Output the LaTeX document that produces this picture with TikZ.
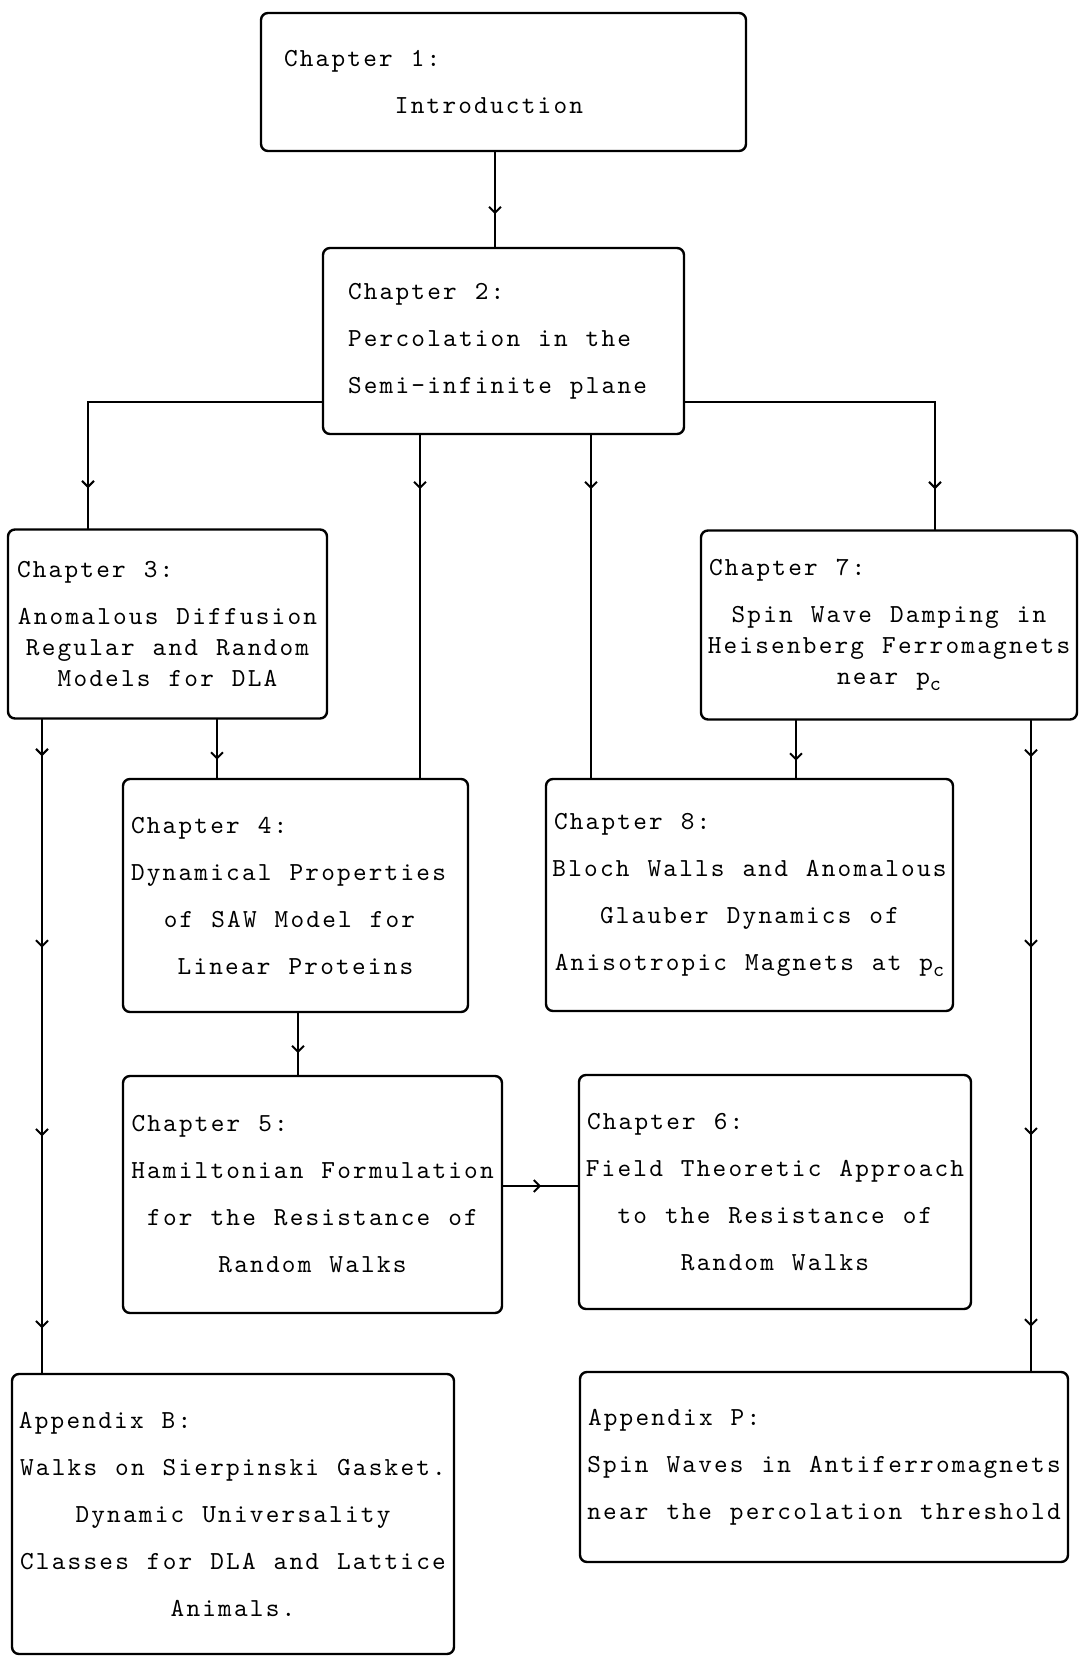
\documentclass[tikz,border=0pt]{standalone}
\usepackage{fontspec}
\newfontfamily\typefont[LetterSpace=8.5]{lmmono10-regular.otf}
\usetikzlibrary{arrows.meta,decorations.markings}
\newcommand{\hd}[2][5pt]{\makebox[\linewidth][l]{\hspace*{#1}#2}}
\newcommand{\wordgap}{\spaceskip=18pt\relax}
\newcommand{\lowsub}[1]{\raisebox{-6pt}{\fontsize{21}{21}\selectfont #1}}
\tikzset{
  box/.style={draw, line width=2.4pt, rounded corners=7pt, inner sep=0pt, align=center,
    font=\typefont\fontsize{26}{47}\selectfont},
  boxsize/.style 2 args={minimum width=#1pt, minimum height=#2pt},
  link/.style={line width=2pt},
  tip at/.style={postaction={decorate, decoration={markings,
    mark=at position #1 with {\arrow{>}}}}},
  long tips/.style={postaction={decorate, decoration={markings,
    mark=at position 0.056 with {\arrow{>}},
    mark=at position 0.349 with {\arrow{>}},
    mark=at position 0.638 with {\arrow{>}},
    mark=at position 0.932 with {\arrow{>}}}}},
}
\begin{document}
\begin{tikzpicture}[x=1pt,y=-1pt,line cap=round,>={Straight Barb[length=6pt,width=12pt]}]
  \useasboundingbox (0,0) rectangle (1079,1657);
  \node[box,boxsize={485}{138},text width=439pt] (ch1) at (503.5,82)
    {\wordgap\hd[0pt]{Chapter 1:}\\\hspace*{-29pt}Introduction};
  \node[box,boxsize={361}{186},text width=311pt,align=left] (ch2) at (503.5,341)
    {\wordgap Chapter 2:\\Percolation in the\\Semi-infinite plane};
  \node[box,boxsize={319}{189},text width=309pt] (ch3) at (167.5,624)
    {\wordgap\hd[4pt]{Chapter 3:}\\Anomalous Diffusion\\[-16pt]Regular and Random\\[-16pt]Models for DLA};
  \node[box,boxsize={376}{189},text width=368pt] (ch7) at (889,625)
    {\wordgap\hd[4pt]{Chapter 7:}\\Spin Wave Damping in\\[-16pt]Heisenberg Ferromagnets\\[-16pt]near p\lowsub{c}};
  \node[box,boxsize={345}{233},text width=329pt] (ch4) at (295.5,895.5)
    {\wordgap\hd[0pt]{Chapter 4:}\\\hspace*{-14pt}Dynamical Properties\\\hspace*{-12pt}of SAW Model for\\Linear Proteins};
  \node[box,boxsize={407}{232},text width=403pt] (ch8) at (749.5,895)
    {\wordgap\hd[6pt]{Chapter 8:}\\Bloch Walls and Anomalous\\Glauber Dynamics of\\Anisotropic Magnets at p\lowsub{c}};
  \node[box,boxsize={379}{237},text width=372pt] (ch5) at (312.5,1194.5)
    {\wordgap\hd{Chapter 5:}\\Hamiltonian Formulation\\for the Resistance of\\Random Walks};
  \node[box,boxsize={392}{234},text width=388pt] (ch6) at (775,1192)
    {\wordgap\hd[6pt]{Chapter 6:}\\Field Theoretic Approach\\to the Resistance of\\Random Walks};
  \node[box,boxsize={442}{280},text width=436pt] (appB) at (233,1514)
    {\wordgap\hd[4pt]{Appendix B:}\\Walks on Sierpinski Gasket.\\Dynamic Universality\\Classes for DLA and Lattice\\Animals.};
  \node[box,boxsize={488}{190},text width=484pt] (appP) at (824,1467)
    {\wordgap\hd[6pt]{Appendix P:}\\Spin Waves in Antiferromagnets\\near the percolation threshold};
  \draw[link,tip at=62pt] ([xshift=-8.5pt]ch1.south) -- ([xshift=-8.5pt]ch1.south |- ch2.north);
  \draw[link,tip at=-40pt] ([yshift=-61pt]ch2.west) -| ([xshift=-79.5pt]ch3.north);
  \draw[link,tip at=-40pt] ([yshift=-61pt]ch2.east) -| ([xshift=46pt]ch7.north);
  \draw[link,tip at=54pt] ([xshift=-83.5pt]ch2.south) -- ([xshift=-83.5pt]ch2.south |- ch4.north);
  \draw[link,tip at=54pt] ([xshift=87.5pt]ch2.south) -- ([xshift=87.5pt]ch2.south |- ch8.north);
  \draw[link,tip at=40pt] ([xshift=49.5pt]ch3.south) -- ([xshift=49.5pt]ch3.south |- ch4.north);
  \draw[link,tip at=40pt] ([xshift=-93pt]ch7.south) -- ([xshift=-93pt]ch7.south |- ch8.north);
  \draw[link,tip at=40pt] ([xshift=2.5pt]ch4.south) -- ([xshift=2.5pt]ch4.south |- ch5.north);
  \draw[link,tip at=38pt] ([yshift=8.5pt]ch5.east) -- ([yshift=8.5pt]ch5.east -| ch6.west);
  \draw[link,long tips] ([xshift=-125.5pt]ch3.south) -- ([xshift=-125.5pt]ch3.south |- appB.north);
  \draw[link,long tips] ([xshift=142pt]ch7.south) -- ([xshift=142pt]ch7.south |- appP.north);
\end{tikzpicture}
\end{document}
